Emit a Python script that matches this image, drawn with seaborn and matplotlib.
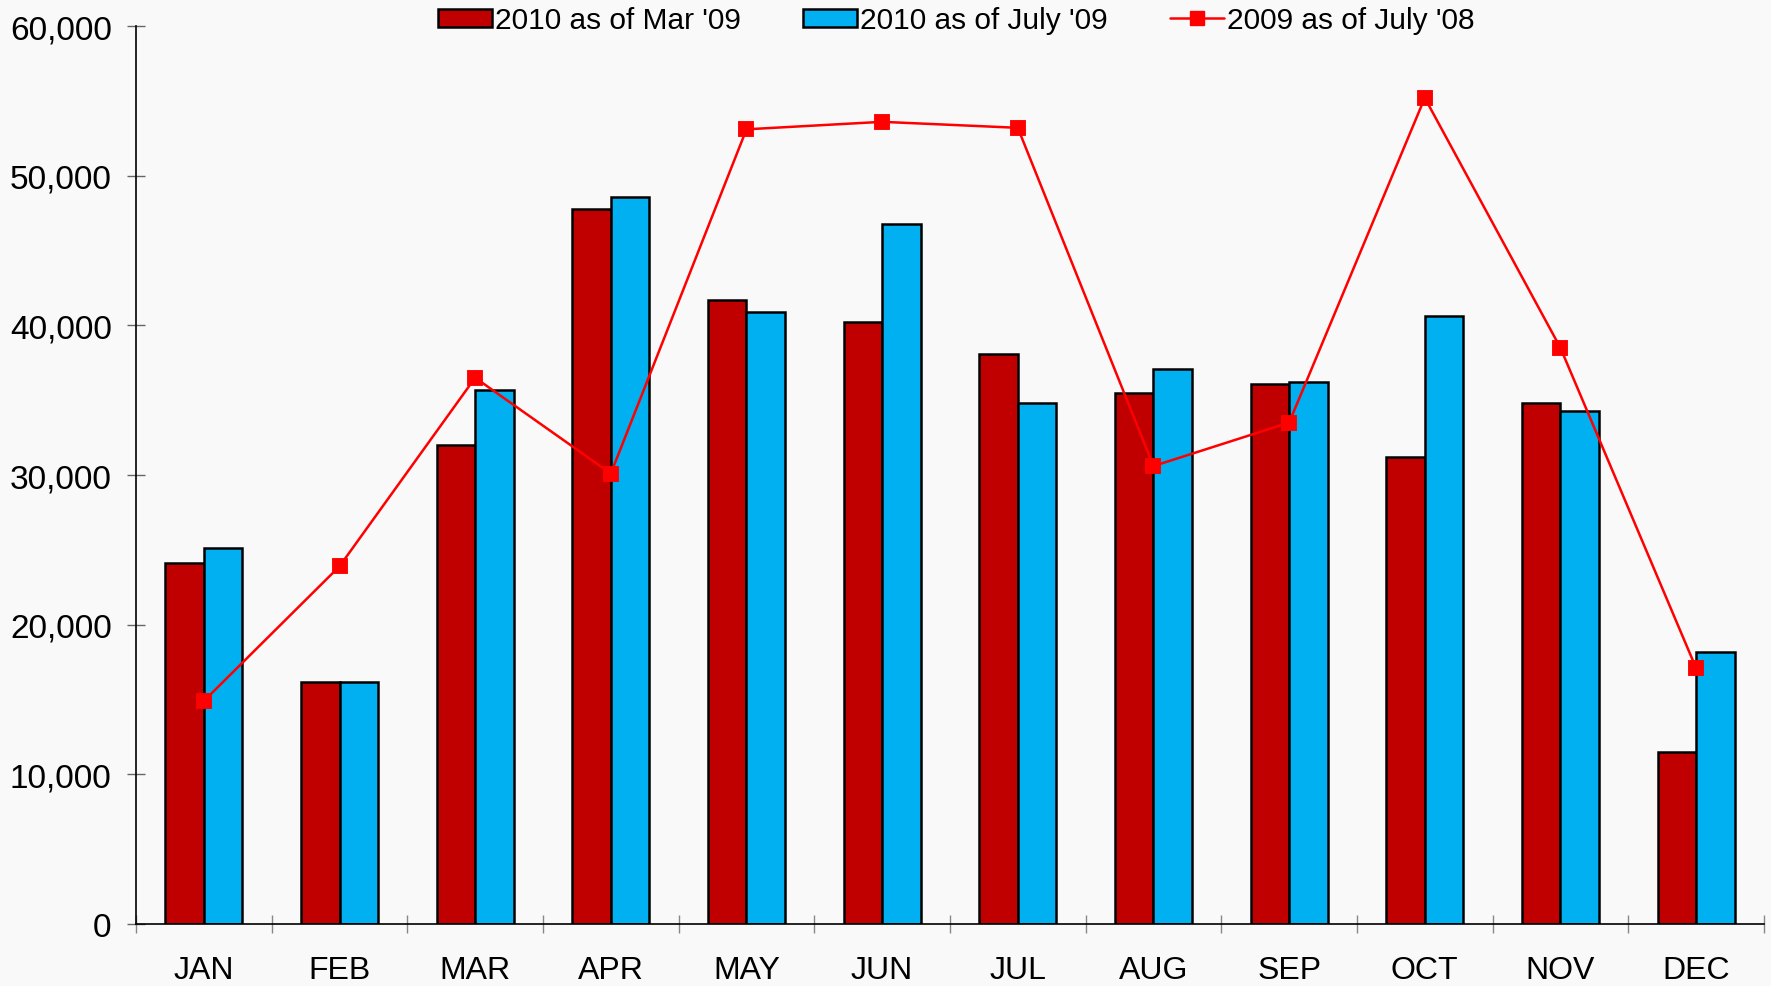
import numpy as np
import pandas as pd
import matplotlib
matplotlib.use("Agg")
import matplotlib.pyplot as plt
import seaborn as sns
from matplotlib.patches import Patch
from matplotlib.lines import Line2D
from matplotlib.ticker import FuncFormatter

months = ["JAN", "FEB", "MAR", "APR", "MAY", "JUN", "JUL", "AUG", "SEP", "OCT", "NOV", "DEC"]
mar09 = [24100, 16200, 32000, 47800, 41700, 40200, 38100, 35500, 36100, 31200, 34800, 11500]
jul09 = [25100, 16200, 35700, 48600, 40900, 46800, 34800, 37100, 36200, 40600, 34300, 18200]
jul08 = [14900, 23900, 36500, 30100, 53100, 53600, 53200, 30600, 33500, 55200, 38500, 17100]

labels = ["2010 as of Mar '09", "2010 as of July '09", "2009 as of July '08"]
bar_colors = ["#c00000", "#00b0f0"]
line_color = "#ff0000"

df = pd.DataFrame({
    "month": months * 2,
    "value": mar09 + jul09,
    "series": [labels[0]] * 12 + [labels[1]] * 12,
})

sns.set_style("white")
plt.rcParams["font.family"] = ["Liberation Sans", "DejaVu Sans"]
plt.rcParams["text.color"] = "black"

fig = plt.figure(figsize=(17.71, 9.87), dpi=100, facecolor="#f9f9f9")
ax = fig.add_axes([0.0768, 0.0628, 0.9192, 0.9098])
ax.set_facecolor("#f9f9f9")

sns.barplot(data=df, x="month", y="value", hue="series", order=months,
            palette=bar_colors, edgecolor="black", linewidth=1.8,
            width=0.567, gap=0, saturation=1, ax=ax, legend=False)
sns.pointplot(x=months, y=jul08, order=months, color=line_color, markers="s",
              markersize=10.5, linewidth=1.8, ax=ax)

ax.set_xlim(-0.5, 11.5)
ax.set_ylim(0, 60000)
ax.set_yticks(np.arange(0, 60001, 10000))
ax.yaxis.set_major_formatter(FuncFormatter(lambda v, p: f"{int(v):,}"))
ax.set_xticks(np.arange(12))
ax.set_xticklabels(months)
ax.set_xticks(np.arange(-0.5, 12, 1), minor=True)
ax.set_xlabel("")
ax.set_ylabel("")

for s in ["top", "right"]:
    ax.spines[s].set_visible(False)
for s in ["left", "bottom"]:
    ax.spines[s].set_color("black")
    ax.spines[s].set_linewidth(1.2)

ax.tick_params(axis="x", which="major", bottom=True, length=0, labelsize=23,
               labelcolor="black", pad=22)
ax.tick_params(axis="x", which="minor", bottom=True, direction="inout", length=13,
               width=1, color="#888888")
ax.tick_params(axis="y", left=True, direction="inout", length=13, width=1, color="#666666",
               labelsize=24, labelcolor="black", pad=11)

handles = [
    Patch(facecolor=bar_colors[0], edgecolor="black", linewidth=1.8),
    Patch(facecolor=bar_colors[1], edgecolor="black", linewidth=1.8),
    Line2D([0], [0], color=line_color, marker="s", markersize=10, linewidth=1.8),
]
fig.legend(handles, labels, loc="upper center", bbox_to_anchor=(0.540, 1.02), ncol=3,
           frameon=False, fontsize=21.5, handlelength=1.8, handleheight=0.55,
           handletextpad=0.1, columnspacing=2.1, labelcolor="black")

fig.savefig("out.png", dpi=100, facecolor=fig.get_facecolor())
